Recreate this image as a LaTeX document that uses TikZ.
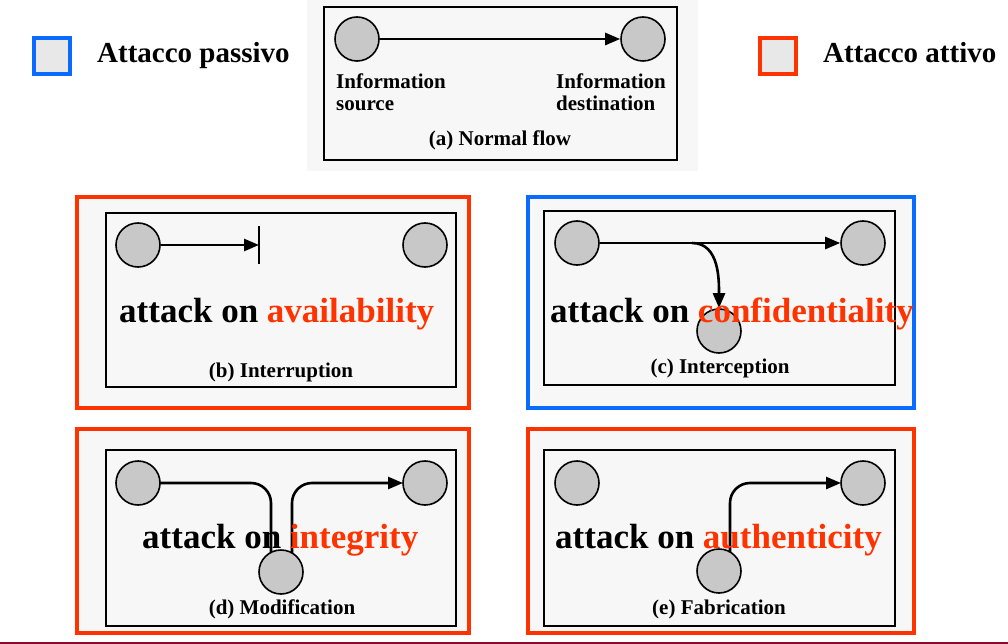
\documentclass[tikz,border=0pt]{standalone}
\usepackage{fontspec}
\setmainfont{Liberation Serif}
\usepackage{xcolor}
\usepackage{tikz}
\usetikzlibrary{arrows.meta}
\definecolor{attivo}{HTML}{FF3300}
\definecolor{passivo}{HTML}{0A6CFF}
\definecolor{panel}{HTML}{F7F7F7}
\definecolor{chip}{HTML}{E8E8E8}
\definecolor{hostgray}{HTML}{C8C8C8}
\definecolor{rulered}{HTML}{8A0A2A}

\begin{document}
\begin{tikzpicture}[x=1pt,y=-1pt,
    host/.style={circle,draw,line width=1.6pt,fill=hostgray,minimum size=44pt,inner sep=0pt},
    flow/.style={line width=2.6pt,-{Triangle[length=15pt,width=12pt]}},
    inbox/.style={draw,line width=1.8pt,fill=panel},
    attbox/.style={draw=attivo,line width=4pt,fill=panel},
    pasbox/.style={draw=passivo,line width=4pt,fill=panel},
    keybox/.style={line width=4pt,fill=chip,minimum size=36pt,inner sep=0pt},
    keytext/.style={font=\fontsize{29}{32}\selectfont\bfseries,anchor=base west,inner sep=0pt},
    big/.style={font=\fontsize{35}{40}\selectfont\bfseries,anchor=base west,inner sep=0pt},
    small/.style={font=\fontsize{21}{22}\selectfont\bfseries,inner sep=0pt}]
  \useasboundingbox (0,0) rectangle (1008,644);
  \draw[rulered,line width=2pt] (0,643) -- (1008,643);

  \node[keybox,draw=passivo] (kpas) at (52,56) {};
  \node[keytext] (tpas) at (97,63) {Attacco passivo};
  \node[keybox,draw=attivo] (katt) at (778,56) {};
  \node[keytext] (tatt) at (823,63) {Attacco attivo};

  % (a)
  \fill[panel] (307,0) rectangle (698,171);
  \draw[inbox] (324,7) rectangle (677,160);
  \node[host] (a1) at (357,39) {};
  \node[host] (a2) at (643,39) {};
  \draw[flow] (a1) -- (a2);
  \node[small,anchor=base west,align=left] (asrc) at (336,111) {Information\\source};
  \node[small,anchor=base west,align=left] (adst) at (556,111) {Information\\destination};
  \node[small,anchor=base] (acap) at (500,146) {(a) Normal flow};

  % (b)
  \draw[attbox] (77,197) rectangle (469,408);
  \draw[inbox] (106,213) rectangle (456,387);
  \node[host] (b1) at (138,245) {};
  \node[host] (b2) at (425,245) {};
  \coordinate (bstop) at (259,245);
  \draw[flow] (b1) -- (bstop);
  \draw[line width=2.6pt] (bstop) ++(0,-19) -- ++(0,38);
  \node[big] (btxt) at (119,322) {attack on \textcolor{attivo}{availability}};
  \node[small,anchor=base] (bcap) at (281,377) {(b) Interruption};

  % (c)
  \draw[pasbox] (528,197) rectangle (914,408);
  \draw[inbox] (544,211) rectangle (895,385);
  \node[host] (c1) at (577,243) {};
  \node[host] (c2) at (863,243) {};
  \node[host] (c3) at (719,331) {};
  \coordinate (ctap) at (692,243);
  \draw[flow] (c1) -- (c2);
  \draw[flow] (ctap) to[out=0,in=90] (c3.north);
  \node[big] (ctxt) at (550,322) {attack on \textcolor{attivo}{confidentiality}};
  \node[small,anchor=base] (ccap) at (720,373) {(c) Interception};

  % (d)
  \draw[attbox] (77,429) rectangle (469,633);
  \draw[inbox] (106,450) rectangle (456,626);
  \draw[line width=2.6pt,rounded corners=20pt] (138,483) -| (271,572);
  \draw[flow,rounded corners=20pt] (292,572) |- (403,483);
  \node[host] (d1) at (138,483) {};
  \node[host] (d2) at (425,483) {};
  \node[host] (d3) at (281,572) {};
  \node[big] (dtxt) at (142,548) {attack on \textcolor{attivo}{integrity}};
  \node[small,anchor=base] (dcap) at (282,614) {(d) Modification};

  % (e)
  \draw[attbox] (528,429) rectangle (914,633);
  \draw[inbox] (544,450) rectangle (895,626);
  \draw[flow,rounded corners=20pt] (730,572) |- (841,483);
  \node[host] (e1) at (577,483) {};
  \node[host] (e2) at (863,483) {};
  \node[host] (e3) at (719,571) {};
  \node[big] (etxt) at (555,548) {attack on \textcolor{attivo}{authenticity}};
  \node[small,anchor=base] (ecap) at (719,614) {(e) Fabrication};
\end{tikzpicture}
\end{document}
